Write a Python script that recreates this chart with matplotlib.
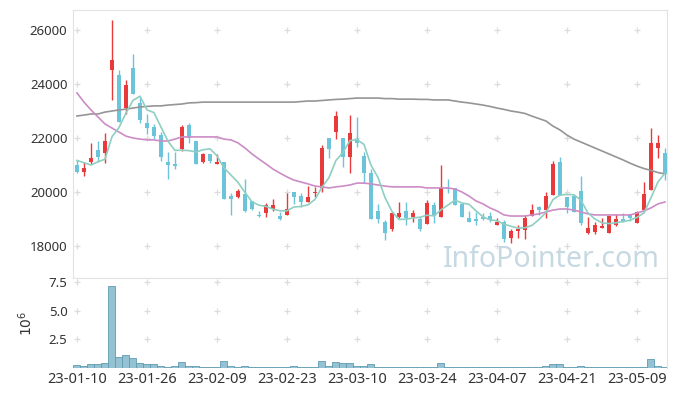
import numpy as np
import pandas as pd
import matplotlib
matplotlib.use('Agg')
import matplotlib.pyplot as plt

plt.rcParams['font.family'] = ['Noto Sans', 'DejaVu Sans']

# daily candles (trading-day index 0..84)
opens = [21000, 20740, 21110, 21560, 21440, 24520, 24330, 23110, 24590, 23300,
         22560, 22410, 22110, 21110, 21040, 21590, 22480, 21890, 21110, 21410,
         21040, 21110, 19850, 19810, 19930, 19670, 19150, 19220, 19370, 19110,
         19150, 20000, 19850, 19630, 19960, 20150, 22000, 22220, 22000, 21300,
         21960, 21330, 20700, 19300, 18890, 18630, 19070, 19300, 19070, 19000,
         18810, 19520, 19070, 20150, 20150, 19560, 19040, 19000, 19070, 19110,
         18780, 18890, 18300, 18560, 18590, 19110, 19440, 19330, 19890, 21110,
         19810, 19850, 20040, 18480, 18520, 18670, 18480, 18780, 19000, 19190,
         18850, 19330, 20070, 21630, 21440]
highs = [21185, 21110, 21815, 21890, 22185, 26370, 24520, 24150, 25110, 23520,
         22890, 22520, 22220, 21480, 21480, 22480, 22560, 21890, 21440, 21410,
         21410, 21110, 19960, 20110, 20480, 19670, 19300, 19590, 19740, 19260,
         19960, 20000, 19960, 20220, 20190, 21740, 22000, 23000, 22000, 22850,
         22780, 21480, 20850, 19560, 18960, 19220, 19630, 19630, 19330, 19070,
         19700, 19630, 21000, 20480, 20150, 19560, 19300, 19260, 19220, 19260,
         19040, 18960, 18630, 18780, 19150, 19560, 19480, 20000, 21150, 21300,
         19810, 19850, 20590, 19070, 18890, 19040, 19150, 19190, 19220, 19190,
         19300, 20370, 22370, 22110, 21630]
lows = [20700, 20590, 21040, 21110, 21070, 23410, 22590, 22890, 23630, 22560,
        22150, 21960, 21150, 20480, 20850, 21520, 21810, 21040, 21070, 21070,
        21040, 19740, 19150, 19780, 19260, 19330, 19070, 19070, 19300, 18960,
        19150, 19560, 19440, 19630, 19810, 20000, 21260, 21960, 20930, 20700,
        21670, 20330, 19000, 18850, 18220, 18560, 19040, 18780, 18890, 18560,
        18810, 18850, 19070, 19960, 19520, 19070, 18890, 18780, 18960, 18890,
        18780, 18150, 18110, 18300, 18260, 19110, 19150, 19040, 19890, 19890,
        19220, 19260, 18780, 18440, 18440, 18670, 18480, 18740, 18890, 18930,
        18850, 19260, 20070, 21260, 20440]
closes = [20740, 20890, 21260, 21300, 21890, 24890, 22590, 23960, 23630, 22670,
          22370, 22070, 21300, 21000, 20960, 22410, 22000, 21040, 21410, 21150,
          21110, 19740, 19740, 20040, 19300, 19370, 19110, 19520, 19520, 19000,
          19370, 19810, 19630, 19810, 20000, 21630, 21590, 22810, 21300, 22190,
          21810, 20700, 19000, 19000, 18480, 19220, 19220, 19040, 19220, 18630,
          19590, 19110, 20150, 20110, 19520, 19070, 18890, 18930, 19000, 18960,
          18890, 18260, 18560, 18630, 19040, 19330, 19330, 19850, 21040, 19890,
          19440, 19260, 18850, 18670, 18780, 18740, 19110, 19000, 18890, 19040,
          19260, 19930, 21810, 21810, 20670]
# four closes before the first shown day (for the 5-day average)
prior_close = [21315, 21685, 20700, 21410]

volume = [0.25, 0.15, 0.3, 0.3, 0.4, 7.18, 0.92, 1.1, 0.83, 0.4,
          0.3, 0.3, 0.2, 0.1, 0.2, 0.48, 0.2, 0.2, 0.1, 0.1,
          0.1, 0.57, 0.2, 0.1, 0.2, 0.1, 0.1, 0.03, 0.1, 0.1,
          0.1, 0.2, 0.1, 0.1, 0.1, 0.57, 0.2, 0.48, 0.4, 0.4,
          0.2, 0.2, 0.3, 0.1, 0.1, 0.1, 0.03, 0.1, 0.1, 0.1,
          0.1, 0.1, 0.4, 0.1, 0.1, 0.1, 0.1, 0.1, 0.03, 0.03,
          0.03, 0.1, 0.03, 0.03, 0.03, 0.1, 0.03, 0.2, 0.3, 0.3,
          0.1, 0.03, 0.2, 0.03, 0.03, 0.03, 0.03, 0.03, 0.03, 0.03,
          0.03, 0.1, 0.75, 0.2, 0.1]  # millions of shares

# 20-day and long moving averages
ma20 = [23670, 23330, 23040, 22780, 22520, 22370, 22220, 22070, 22000, 21960,
        21930, 21930, 21890, 21890, 21960, 22040, 22040, 22040, 22040, 22040,
        22040, 21960, 21930, 21820, 21630, 21410, 21220, 21040, 20850, 20700,
        20560, 20440, 20370, 20300, 20220, 20190, 20150, 20190, 20220, 20260,
        20330, 20330, 20300, 20260, 20220, 20190, 20190, 20190, 20190, 20190,
        20150, 20150, 20150, 20150, 20110, 20000, 19850, 19670, 19560, 19410,
        19300, 19150, 19110, 19110, 19110, 19150, 19190, 19260, 19330, 19370,
        19370, 19330, 19260, 19190, 19150, 19150, 19150, 19150, 19150, 19150,
        19220, 19300, 19410, 19560, 19630]
ma_long = [22815, 22850, 22890, 22890, 22960, 23000, 23040, 23070, 23110, 23150,
           23170, 23190, 23190, 23220, 23240, 23260, 23300, 23310, 23330, 23330,
           23330, 23330, 23330, 23330, 23330, 23330, 23330, 23330, 23330, 23330,
           23330, 23330, 23350, 23370, 23370, 23390, 23410, 23430, 23440, 23460,
           23480, 23480, 23480, 23480, 23460, 23460, 23440, 23440, 23440, 23430,
           23430, 23410, 23410, 23410, 23370, 23330, 23300, 23260, 23220, 23170,
           23110, 23060, 23000, 22960, 22910, 22810, 22720, 22630, 22440, 22300,
           22110, 21960, 21850, 21740, 21630, 21520, 21410, 21300, 21190, 21070,
           20960, 20870, 20800, 20720, 20670]

tick_pos = [0, 10, 20, 30, 40, 50, 60, 70, 80]
tick_labels = ['23-01-10', '23-01-26', '23-02-09', '23-02-23', '23-03-10',
               '23-03-24', '23-04-07', '23-04-21', '23-05-09']
price_ticks = [18000, 20000, 22000, 24000, 26000]
vol_ticks = [2.5, 5.0, 7.5]

UP = '#e8393b'
DOWN = '#6cc4da'
FRAME = '#e2e2e2'
TXT = '#333333'

o = np.array(opens)
h = np.array(highs)
l = np.array(lows)
c = np.array(closes)
idx = np.arange(len(c))
colors = [UP if cc > oo else DOWN for oo, cc in zip(o, c)]

ma5 = pd.Series(prior_close + closes).rolling(5).mean().values[len(prior_close):]

fig = plt.figure(figsize=(6.77, 3.96), dpi=100)
ax = fig.add_axes([0.1078, 0.298, 0.8774, 0.6767])
axv = fig.add_axes([0.1078, 0.0712, 0.8774, 0.2268], sharex=ax)

# grid drawn as small plus marks
gx, gy = np.meshgrid(tick_pos, price_ticks)
ax.plot(gx.ravel(), gy.ravel(), ls='', marker='+', ms=5, mew=0.9, color='#dcdcdc', zorder=0)
gx, gy = np.meshgrid(tick_pos, vol_ticks)
axv.plot(gx.ravel(), gy.ravel(), ls='', marker='+', ms=5, mew=0.9, color='#dcdcdc', zorder=0)

# candles
ax.vlines(idx, l, h, colors=colors, linewidth=1, zorder=2)
body = np.maximum(np.abs(c - o), 25)
ax.bar(idx, body, bottom=np.minimum(o, c), width=0.66, color=colors, linewidth=0, zorder=3)

# moving averages
ax.plot(idx, ma_long, color='#959595', lw=1.2, zorder=4)
ax.plot(idx, ma20, color='#cc8cc6', lw=1.2, zorder=4)
ax.plot(idx, ma5, color='#8ecfc2', lw=1.2, zorder=4)

ax.text(0.988, 0.041, 'InfoPointer.com', transform=ax.transAxes, ha='right', va='baseline',
        fontsize=20.5, color='#b7cedb', alpha=0.78, zorder=5)

ax.set_xlim(-0.57, 84.29)
ax.set_ylim(16815, 26741)
ax.set_yticks(price_ticks)
ax.tick_params(axis='y', length=0, labelsize=9.5, colors=TXT, pad=4)
ax.tick_params(axis='x', length=0, labelbottom=False)
for s in ax.spines.values():
    s.set_color(FRAME)

# volume
axv.bar(idx, volume, width=1.0, color='#95c2d3', edgecolor='#5f9bb2', linewidth=0.6, zorder=2)
axv.set_ylim(0, 7.88)
axv.set_yticks(vol_ticks)
axv.set_yticklabels(['2.5', '5.0', '7.5'])
axv.set_xticks(tick_pos)
axv.set_xticklabels(tick_labels)
axv.tick_params(axis='y', length=0, labelsize=9.5, colors=TXT, pad=4)
axv.tick_params(axis='x', length=0, labelsize=10.5, colors=TXT, pad=3)
axv.set_ylabel('$10^6$', fontsize=10, color=TXT, labelpad=9)
axv.spines['left'].set_visible(False)
axv.spines['bottom'].set_visible(False)
axv.spines['top'].set_color(FRAME)
axv.spines['right'].set_color(FRAME)

fig.savefig('out.png', dpi=100)
